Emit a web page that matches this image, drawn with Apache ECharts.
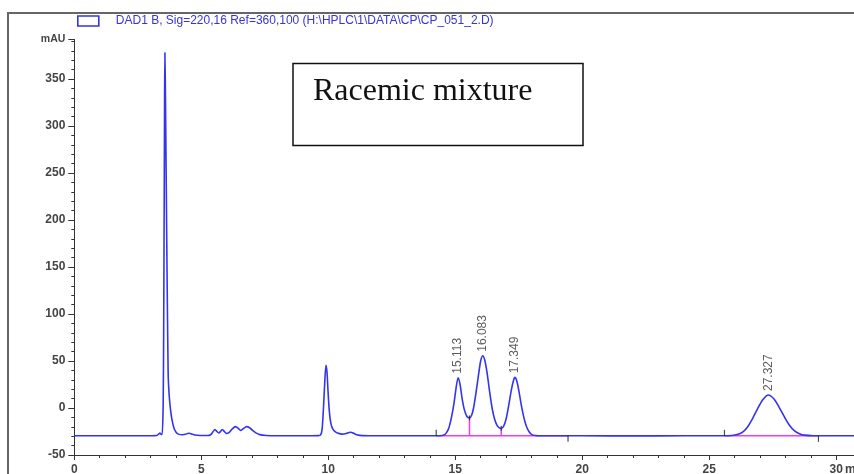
<!DOCTYPE html>
<html>
<head>
<meta charset="utf-8">
<script src="https://cdn.jsdelivr.net/npm/echarts@6/dist/echarts.min.js"></script>
<style>
  html, body { margin: 0; padding: 0; background: #fff; }
  #chart { width: 854px; height: 474px; }
</style>
</head>
<body>
<div id="chart"></div>
<script>
// DAD1 B chromatogram trace: retention time (min) and absorbance (mAU)
const retentionTime = [
  0, 1.0, 2.0, 3.0, 3.25, 3.32, 3.37, 3.42, 3.46, 3.5,
  3.52, 3.54, 3.555, 3.567, 3.59, 3.61, 3.63, 3.65, 3.67, 3.685,
  3.70, 3.74, 3.79, 3.85, 3.92, 4.0, 4.1, 4.25, 4.38, 4.46,
  4.53, 4.62, 4.75, 4.95, 5.25, 5.38, 5.46, 5.54, 5.62, 5.69,
  5.76, 5.83, 5.91, 6.0, 6.1, 6.22, 6.35, 6.46, 6.55, 6.65,
  6.79, 6.9, 7.02, 7.15, 7.3, 7.55, 8.0, 9.0, 9.6, 9.7,
  9.76, 9.82, 9.87, 9.91, 9.95, 9.99, 10.04, 10.1, 10.18, 10.28,
  10.4, 10.55, 10.7, 10.82, 10.89, 10.98, 11.12, 11.35, 12.0, 13.0,
  14.0, 14.4, 14.55, 14.65, 14.75, 14.85, 14.95, 15.03, 15.113, 15.19,
  15.27, 15.36, 15.46, 15.56, 15.64, 15.72, 15.82, 15.92, 16.0, 16.083,
  16.16, 16.25, 16.35, 16.45, 16.55, 16.65, 16.74, 16.81, 16.9, 17.0,
  17.1, 17.2, 17.29, 17.349, 17.42, 17.5, 17.6, 17.7, 17.8, 17.9,
  18.0, 18.15, 18.5, 20.0, 22.0, 24.0, 25.5, 25.9, 26.1, 26.3,
  26.5, 26.7, 26.9, 27.1, 27.327, 27.55, 27.75, 27.95, 28.15, 28.35,
  28.55, 28.75, 29.1, 30.0, 30.7
];
const absorbance = [
  -29.6, -29.5, -29.6, -29.5, -29.3, -27.8, -26.6, -27.9, -28.2, 5,
  90, 220, 330, 378, 330, 270, 210, 150, 95, 60,
  32, 12, -2, -13, -21, -25.5, -27.8, -28.4, -28.0, -27.1,
  -26.8, -27.6, -28.8, -29.3, -29.3, -28.2, -25.3, -22.8, -25.2, -26.6,
  -24.8, -23.0, -25.0, -27.2, -26.0, -22.2, -19.8, -21.8, -23.8, -22.0,
  -19.8, -21.0, -23.8, -26.5, -28.3, -29.3, -29.6, -29.6, -29.4, -28.6,
  -22, 5, 32, 45.5, 38, 18, -3, -16, -22.5, -25.5,
  -27, -27.8, -27.2, -26.0, -25.8, -26.6, -28.4, -29.4, -29.6, -29.6,
  -29.6, -29.5, -28.8, -26.5, -21, -10, 5, 21, 32.2, 25,
  10, -2, -9, -10.5, -8, 0, 17, 36, 50, 55.6,
  51, 38, 18, 0, -12, -18.8, -21.2, -21.6, -19.5, -12,
  2, 18, 29, 32.6, 29, 19, 3, -10, -19.5, -25,
  -28, -29.3, -29.6, -29.6, -29.7, -29.6, -29.6, -29.3, -28.3, -26,
  -20.5, -11.5, -1, 8.5, 13.8, 9.5, 1, -9, -18, -24,
  -27.3, -28.9, -29.5, -29.6, -29.6
];

// Integrated peaks: retention time and apex height (mAU)
const peakTimes = [15.113, 16.083, 17.349, 27.327];
const peakHeights = [32.2, 55.6, 32.6, 13.8];

// Integration baselines (start / end times) and their level
const integrationStart = [14.25, 25.6];
const integrationEnd = [19.44, 29.3];
const integrationLevel = -29.6;

// Drop lines at the valleys between co-eluting peaks
const dropTimes = [15.56, 16.81];
const dropTops = [-10.5, -21.6];

// Axis ticks
const xMajorStep = 5;
const xMinorStep = 1;
const xLastLabel = 30;
const yTickStep = 50;
const xMin = 0, xMax = 30.7;
const yMin = -50, yMax = 392;

const traceName = 'DAD1 B, Sig=220,16 Ref=360,100 (H:\\HPLC\\1\\DATA\\CP\\CP_051_2.D)';
const traceColor = '#3434ee';
const integColor = '#f03cf0';
const axisColor = '#333';
const labelColor = '#444';
const font = '"Liberation Sans", Arial, sans-serif';

const trace = retentionTime.map((t, i) => [t, absorbance[i]]);

const baselineSeries = integrationStart.map((s, i) => ({
  type: 'line',
  data: [[s, integrationLevel], [integrationEnd[i], integrationLevel]],
  showSymbol: false,
  lineStyle: { color: integColor, width: 1.5 },
  z: 3,
  silent: true
}));
const dropSeries = dropTimes.map((t, i) => ({
  type: 'line',
  data: [[t, integrationLevel], [t, dropTops[i]]],
  showSymbol: false,
  lineStyle: { color: integColor, width: 1.5 },
  z: 3,
  silent: true
}));

const chart = echarts.init(document.getElementById('chart'), null, { renderer: 'canvas' });

chart.setOption({
  animation: false,
  backgroundColor: '#fff',
  grid: { left: 74.3, top: 39.5, right: 0, bottom: 19, containLabel: false, outerBoundsMode: 'none' },
  legend: {
    data: [traceName],
    left: 77,
    top: 15,
    padding: 0,
    icon: 'rect',
    itemWidth: 21,
    itemHeight: 10,
    itemStyle: { color: 'rgba(0,0,0,0)', borderColor: '#3535dd', borderWidth: 1.6 },
    textStyle: { fontSize: 12, color: '#3535d5', fontFamily: font, padding: [0, 0, 0, 12] }
  },
  xAxis: [
    {
      // one-minute ticks
      type: 'value',
      position: 'bottom',
      min: xMin,
      max: xMax,
      interval: xMinorStep,
      axisLine: { onZero: false, lineStyle: { color: axisColor, width: 1 } },
      axisTick: { show: true, length: 3, lineStyle: { color: axisColor } },
      axisLabel: { show: false },
      splitLine: { show: false }
    },
    {
      // labelled five-minute ticks
      type: 'value',
      position: 'bottom',
      min: xMin,
      max: xMax,
      interval: xMajorStep,
      axisLine: { show: false, onZero: false },
      axisTick: { show: true, length: 5, lineStyle: { color: axisColor } },
      splitLine: { show: false },
      axisLabel: {
        margin: 9,
        fontSize: 12,
        fontWeight: 'bold',
        color: labelColor,
        fontFamily: font,
        formatter: v => (v <= xLastLabel && v % xMajorStep === 0 ? String(v) : '')
      }
    }
  ],
  yAxis: {
    type: 'value',
    min: yMin,
    max: yMax,
    interval: yTickStep,
    axisLine: { show: true, onZero: false, lineStyle: { color: axisColor, width: 1 } },
    axisTick: { show: true, length: 6, lineStyle: { color: axisColor } },
    minorTick: { show: true, splitNumber: 5, length: 3, lineStyle: { color: axisColor } },
    splitLine: { show: false },
    axisLabel: {
      margin: 9,
      fontSize: 12,
      fontWeight: 'bold',
      color: labelColor,
      fontFamily: font,
      formatter: v => (v === yMax ? '{u|mAU}' : String(v)),
      rich: { u: { fontSize: 10.5, fontWeight: 'bold', color: labelColor, fontFamily: font } }
    }
  },
  series: [
    {
      name: traceName,
      type: 'line',
      data: trace,
      showSymbol: false,
      smooth: 0.25,
      lineStyle: { color: traceColor, width: 1.6 },
      itemStyle: { color: traceColor },
      z: 4,
      silent: true
    },
    ...baselineSeries,
    ...dropSeries,
    {
      // integration start marks
      type: 'scatter',
      data: integrationStart.map(t => [t, integrationLevel]),
      symbol: 'rect',
      symbolSize: [1.2, 6],
      symbolOffset: [0, -3],
      itemStyle: { color: '#222' },
      z: 5,
      silent: true
    },
    {
      // integration end marks
      type: 'scatter',
      data: integrationEnd.map(t => [t, integrationLevel]),
      symbol: 'rect',
      symbolSize: [1.2, 6],
      symbolOffset: [0, 3],
      itemStyle: { color: '#222' },
      z: 5,
      silent: true
    },
    {
      // valley marks
      type: 'scatter',
      data: dropTimes.map((t, i) => [t, dropTops[i]]),
      symbol: 'rect',
      symbolSize: [1.2, 5],
      itemStyle: { color: '#222' },
      z: 5,
      silent: true
    },
    {
      // retention time labels above each integrated peak
      type: 'scatter',
      data: peakTimes.map((t, i) => [t, peakHeights[i]]),
      symbolSize: 0,
      label: {
        show: true,
        position: 'top',
        distance: 4,
        rotate: 90,
        align: 'left',
        verticalAlign: 'middle',
        fontSize: 12,
        color: '#333',
        fontFamily: font,
        formatter: p => p.value[0].toFixed(3)
      },
      z: 6,
      silent: true
    }
  ],
  graphic: [
    {
      // outer frame
      type: 'rect',
      shape: { x: 8, y: 13, width: 900, height: 500 },
      style: { fill: 'none', stroke: '#666', lineWidth: 2 },
      silent: true,
      z: 0
    },
    {
      type: 'text',
      x: 845,
      y: 470,
      style: { text: 'min', font: 'bold 12px ' + font, fill: labelColor, textVerticalAlign: 'middle' },
      silent: true
    },
    {
      type: 'group',
      z: 10,
      children: [
        {
          type: 'rect',
          shape: { x: 293, y: 63.5, width: 290, height: 82 },
          style: { fill: '#fff', stroke: '#111', lineWidth: 1.5 }
        },
        {
          type: 'text',
          x: 313,
          y: 92,
          style: {
            text: 'Racemic mixture',
            font: '32px "Liberation Serif", "Times New Roman", serif',
            fill: '#111',
            textVerticalAlign: 'middle'
          }
        }
      ]
    }
  ]
});
</script>
</body>
</html>
